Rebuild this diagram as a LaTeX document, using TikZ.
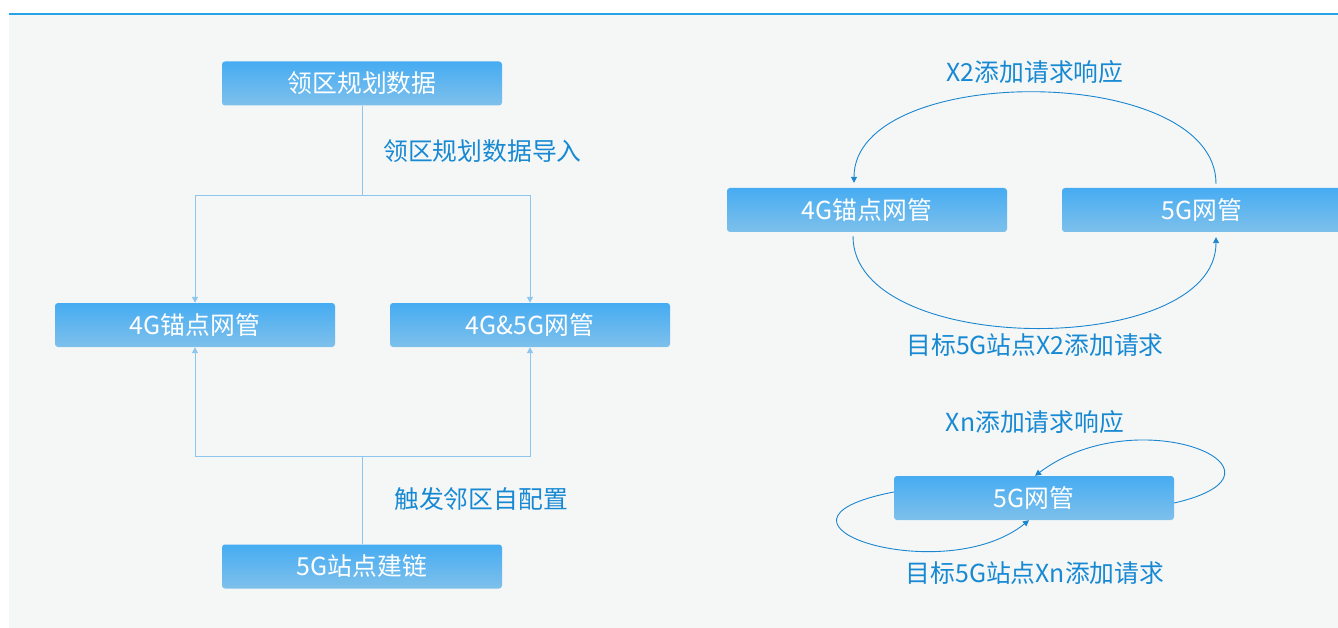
\documentclass[tikz,border=0pt]{standalone}
\usepackage{fontspec}
\setmainfont{Noto Sans CJK SC}
\usetikzlibrary{arrows.meta}
\definecolor{boxtop}{HTML}{46ACF2}
\definecolor{boxbot}{HTML}{7EC0EB}
\definecolor{labelblue}{HTML}{1789D3}
\definecolor{linkblue}{HTML}{8DC6EE}
\definecolor{arcblue}{HTML}{1A86CF}
\definecolor{panel}{HTML}{F5F7F7}
\definecolor{topline}{HTML}{27A3E8}
\tikzset{
  box/.style={rounded corners=3pt,top color=boxtop,bottom color=boxbot,text=white,
    minimum width=280pt,minimum height=44pt,inner sep=0pt,font=\fontsize{24.8}{28}\selectfont},
  lbl/.style={text=labelblue,inner sep=0pt,font=\fontsize{24.8}{28}\selectfont},
  conn/.style={linkblue,line width=1pt},
  tip/.style={-{Triangle[width=6pt,length=6pt]}},
  arc/.style={arcblue,line width=0.9pt,tip,shorten >=5pt,shorten <=4pt},
  loopline/.style={arcblue,line width=0.9pt,tip}
}
\begin{document}
\begin{tikzpicture}[x=1pt,y=1pt]
\useasboundingbox (0,0) rectangle (1338,-628);
\fill[panel] (9,-15) rectangle (1338,-628);
\draw[topline,line width=2pt] (9,-14.5) -- (1338,-14.5);

\node (plan) at (362,-83.5) [box] {领区规划数据};
\node (anc) at (195,-325) [box] {4G锚点网管};
\node (both) at (530,-325) [box] {4G\&5G网管};
\node (link) at (362,-566.5) [box] {5G站点建链};
\node (g4a) at (867,-210) [box] {4G锚点网管};
\node (g5a) at (1202,-210) [box] {5G网管};
\node (g5b) at (1034,-498) [box] {5G网管};

\node (lplan) at (383,-151) [lbl,anchor=west] {领区规划数据导入};
\node (ltrig) at (394,-499) [lbl,anchor=west] {触发邻区自配置};
\node (lresp) at (1035,-72) [lbl] {X2添加请求响应};
\node (lreq) at (1035,-345) [lbl] {目标5G站点X2添加请求};
\node (lxresp) at (1035,-422) [lbl] {Xn添加请求响应};
\node (lxreq) at (1035,-573) [lbl] {目标5G站点Xn添加请求};

\draw[conn] (plan.south) -- ++(0,-90) coordinate (split);
\draw[conn,tip] (split) -| (anc.north);
\draw[conn,tip] (split) -| (both.north);
\draw[conn] (link.north) -- ++(0,88) coordinate (merge);
\draw[conn,tip] (merge) -| (anc.south);
\draw[conn,tip] (merge) -| (both.south);

\draw[arc] ([xshift=14pt]g5a.north) to[out=90,in=90,looseness=0.89] ([xshift=-13pt]g4a.north);
\draw[arc] ([xshift=-14pt]g4a.south) to[out=-90,in=-90,looseness=0.89] ([xshift=14pt]g5a.south);
\draw[loopline] ([yshift=-5pt]g5b.east) .. controls +(13:140) and +(37:130) .. ([xshift=1pt]g5b.north);
\draw[loopline] ([yshift=6pt]g5b.west) .. controls +(191:160) and +(219:110) .. ([xshift=-5pt]g5b.south);
\end{tikzpicture}
\end{document}
